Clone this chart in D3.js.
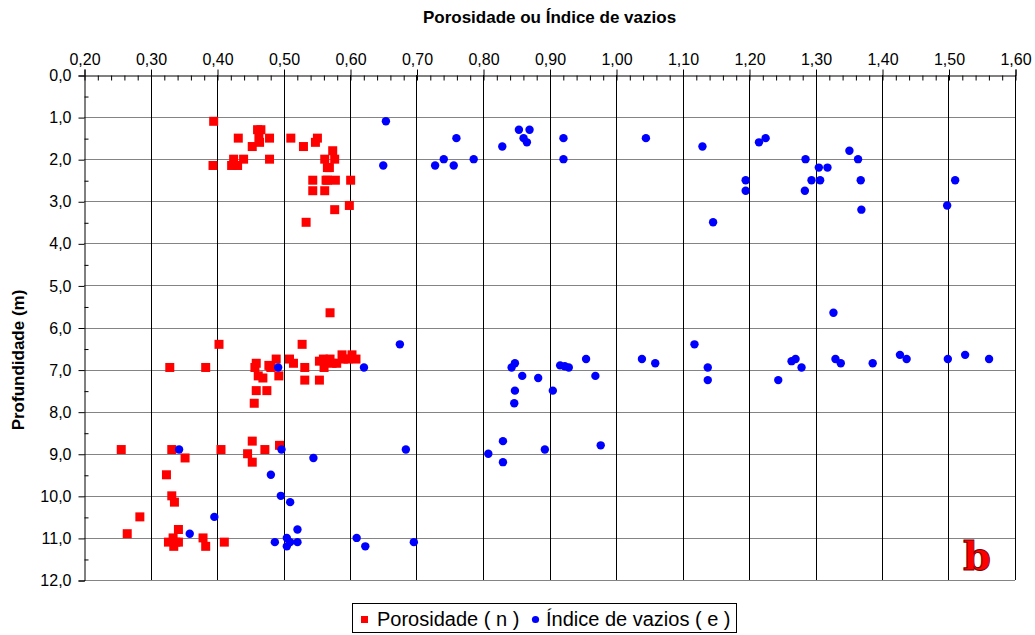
<!DOCTYPE html>
<html>
<head>
<meta charset="utf-8">
<script src="https://cdn.jsdelivr.net/npm/d3@7"></script>
<style>
  html, body { margin: 0; padding: 0; background: #fff; }
  svg { display: block; font-family: "Liberation Sans", Arial, sans-serif; }
</style>
</head>
<body>
<svg id="chart" width="1035" height="635"></svg>
<script>
// Profundidade das amostras (m)
const profundidade = [
  1.1, 1.3, 1.3, 1.5, 1.5, 1.5, 1.5, 1.5, 1.6, 1.6, 1.7, 1.7, 1.8,
  2.0, 2.0, 2.0, 2.0, 2.0, 2.15, 2.15, 2.15, 2.2, 2.2,
  2.5, 2.5, 2.5, 2.5, 2.5, 2.75, 2.75, 3.1, 3.2, 3.5,
  5.65, 6.4, 6.4,
  6.95, 6.95, 6.95, 6.95, 6.95, 6.95, 6.9, 6.92,
  6.85, 6.85, 6.85, 6.85, 6.75, 6.75, 6.8, 6.75, 6.75, 6.75, 6.75, 6.75,
  6.65, 6.65, 7.15, 7.15, 7.2, 7.25, 7.25, 7.5, 7.5, 7.8, 8.7,
  8.8, 8.9, 8.9, 8.9, 8.9, 9.0, 9.1, 9.2, 9.5, 10.0, 10.15, 10.5,
  10.8, 10.9, 11.0, 11.0, 11.1, 11.1, 11.1, 11.1, 11.2, 11.2
];

// Porosidade ( n )
const porosidade = [
  0.395, 0.461, 0.466, 0.432, 0.463, 0.479, 0.511, 0.551, 0.464, 0.548, 0.453, 0.530, 0.574,
  0.425, 0.440, 0.479, 0.562, 0.577, 0.394, 0.422, 0.431, 0.566, 0.569,
  0.544, 0.564, 0.566, 0.578, 0.601, 0.544, 0.562, 0.599, 0.577, 0.534,
  0.570, 0.403, 0.528,
  0.329, 0.383, 0.457, 0.481, 0.532, 0.561, 0.478, 0.480,
  0.459, 0.515, 0.573, 0.580, 0.489, 0.509, 0.554, 0.560, 0.570, 0.590, 0.597, 0.609,
  0.588, 0.603, 0.462, 0.493, 0.469, 0.532, 0.554, 0.459, 0.475, 0.456, 0.453,
  0.494, 0.256, 0.332, 0.406, 0.472, 0.446, 0.352, 0.453, 0.324, 0.332, 0.336, 0.284,
  0.342, 0.265, 0.334, 0.379, 0.327, 0.338, 0.342, 0.411, 0.335, 0.383
];

// Índice de vazios ( e )
const indiceVazios = [
  0.654, 0.854, 0.870, 0.760, 0.861, 0.921, 1.045, 1.225, 0.866, 1.215, 0.829, 1.130, 1.351,
  0.741, 0.786, 0.921, 1.285, 1.364, 0.650, 0.728, 0.756, 1.305, 1.318,
  1.195, 1.294, 1.307, 1.368, 1.510, 1.195, 1.284, 1.498, 1.369, 1.146,
  1.327, 0.675, 1.118,
  0.492, 0.621, 0.843, 0.929, 1.138, 1.279, 0.916, 0.923,
  0.848, 1.059, 1.338, 1.386, 0.955, 1.039, 1.264, 1.270, 1.330, 1.437, 1.499, 1.561,
  1.427, 1.525, 0.859, 0.969, 0.883, 1.138, 1.244, 0.848, 0.905, 0.847, 0.830,
  0.977, 0.343, 0.497, 0.684, 0.893, 0.808, 0.545, 0.830, 0.481, 0.496, 0.510, 0.396,
  0.521, 0.359, 0.505, 0.610, 0.487, 0.510, 0.521, 0.696, 0.505, 0.623
];

// Marcas dos eixos
const xTicks = [0.20, 0.30, 0.40, 0.50, 0.60, 0.70, 0.80, 0.90, 1.00, 1.10, 1.20, 1.30, 1.40, 1.50, 1.60];
const yTicks = [0, 1, 2, 3, 4, 5, 6, 7, 8, 9, 10, 11, 12];
const xMinor = d3.range(0.20, 1.6001, 0.02);
const yMinor = d3.range(0.5, 12, 1);

const svg = d3.select("#chart");
const plotLeft = 84, plotRight = 1015, plotTop = 75, plotBottom = 580;

const x = d3.scaleLinear().domain([0.2, 1.6]).range([plotLeft, plotRight]);
const y = d3.scaleLinear().domain([0, 12]).range([plotTop, plotBottom]);

const virgula = (v, n) => v.toFixed(n).replace(".", ",");

// Linhas de grade horizontais
svg.append("g")
  .selectAll("line")
  .data(yTicks.slice(1))
  .join("line")
  .attr("x1", plotLeft).attr("x2", plotRight)
  .attr("y1", d => Math.round(y(d)) + 0.5).attr("y2", d => Math.round(y(d)) + 0.5)
  .attr("stroke", "#848484").attr("stroke-width", 1);

// Linhas de grade verticais
svg.append("g")
  .selectAll("line")
  .data(xTicks.slice(1))
  .join("line")
  .attr("x1", d => Math.round(x(d)) + 0.5).attr("x2", d => Math.round(x(d)) + 0.5)
  .attr("y1", plotTop).attr("y2", plotBottom)
  .attr("stroke", "#000").attr("stroke-width", 1);

// Eixo superior
const gx = svg.append("g").attr("transform", `translate(0.5,${plotTop + 0.5})`);
gx.call(d3.axisTop(x).tickValues(xTicks).tickSize(6).tickPadding(5).tickFormat(d => virgula(d, 2)));
gx.selectAll("text").attr("font-size", 16).attr("font-family", "Liberation Sans, Arial, sans-serif").attr("fill", "#000");
gx.selectAll("line, path").attr("stroke", "#000");

const gxm = svg.append("g").attr("transform", `translate(0.5,${plotTop + 0.5})`);
gxm.call(d3.axisTop(x).tickValues(xMinor).tickSize(-5).tickFormat(""));
gxm.select(".domain").remove();
gxm.selectAll("line").attr("stroke", "#000");

// Eixo esquerdo
const gy = svg.append("g").attr("transform", `translate(${plotLeft + 0.5},0.5)`);
gy.call(d3.axisLeft(y).tickValues(yTicks).tickSize(6).tickPadding(7).tickFormat(d => virgula(d, 1)));
gy.selectAll("text").attr("font-size", 16).attr("font-family", "Liberation Sans, Arial, sans-serif").attr("fill", "#000");
gy.selectAll("line, path").attr("stroke", "#000");

const gym = svg.append("g").attr("transform", `translate(${plotLeft + 0.5},0.5)`);
gym.call(d3.axisLeft(y).tickValues(yMinor).tickSize(-4).tickFormat(""));
gym.select(".domain").remove();
gym.selectAll("line").attr("stroke", "#000");

// Títulos dos eixos
svg.append("text")
  .attr("x", (plotLeft + plotRight) / 2).attr("y", 23)
  .attr("text-anchor", "middle")
  .attr("font-size", 17).attr("font-weight", "bold")
  .text("Porosidade ou Índice de vazios");

svg.append("text")
  .attr("transform", `translate(24,360) rotate(-90)`)
  .attr("text-anchor", "middle")
  .attr("font-size", 17).attr("font-weight", "bold")
  .text("Profundidade (m)");

const amostras = profundidade.map((p, i) => ({ p, n: porosidade[i], e: indiceVazios[i] }));

// Porosidade: quadrados vermelhos
const lado = 9;
svg.append("g")
  .selectAll("rect")
  .data(amostras)
  .join("rect")
  .attr("x", d => x(d.n) - lado / 2)
  .attr("y", d => y(d.p) - lado / 2)
  .attr("width", lado).attr("height", lado)
  .attr("fill", "#ff0000");

// Índice de vazios: círculos azuis
svg.append("g")
  .selectAll("circle")
  .data(amostras)
  .join("circle")
  .attr("cx", d => x(d.e))
  .attr("cy", d => y(d.p))
  .attr("r", 4.2)
  .attr("fill", "#0000ff");

// Letra de identificação do gráfico
svg.append("text")
  .attr("x", 977).attr("y", 570)
  .attr("text-anchor", "middle")
  .attr("font-family", "DejaVu Serif, serif")
  .attr("font-weight", "bold")
  .attr("font-size", 40)
  .attr("fill", "#ff0000")
  .attr("stroke", "#800000").attr("stroke-width", 1)
  .text("b");

// Legenda
const leg = svg.append("g");
leg.append("rect")
  .attr("x", 352.5).attr("y", 603.5).attr("width", 384).attr("height", 29)
  .attr("fill", "#fff").attr("stroke", "#000").attr("stroke-width", 1);
leg.append("rect")
  .attr("x", 361).attr("y", 616).attr("width", 7).attr("height", 7)
  .attr("fill", "#ff0000");
leg.append("text")
  .attr("x", 377).attr("y", 626)
  .attr("font-size", 20)
  .text("Porosidade ( n )");
leg.append("circle")
  .attr("cx", 535.5).attr("cy", 619.5).attr("r", 3.6)
  .attr("fill", "#0000ff");
leg.append("text")
  .attr("x", 546).attr("y", 626)
  .attr("font-size", 20)
  .text("Índice de vazios ( e )");
</script>
</body>
</html>
